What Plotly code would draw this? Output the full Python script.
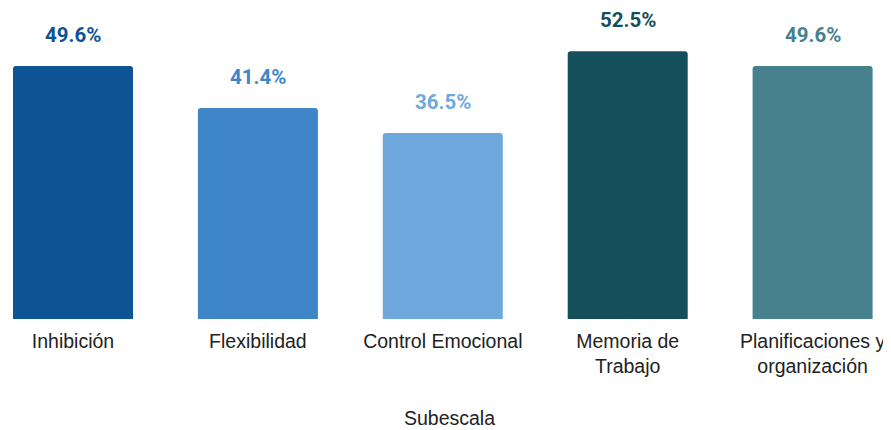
import plotly.graph_objects as go

subescalas = ["Inhibición", "Flexibilidad", "Control Emocional", "Memoria de<br>Trabajo", "Planificaciones y<br>organización"]
porcentajes = [49.6, 41.4, 36.5, 52.5, 49.6]
etiquetas = ["49.6%", "41.4%", "36.5%", "52.5%", "49.6%"]
colores = ["#0e5394", "#3f86c8", "#6fa8dc", "#164f5c", "#47818e"]

fig = go.Figure()
fig.add_trace(go.Bar(x=subescalas, y=porcentajes, marker=dict(color=colores, line=dict(width=0)),
                     hoverinfo="skip"))

for x, y, txt, c in zip(subescalas, porcentajes, etiquetas, colores):
    fig.add_annotation(x=x, y=y, text=f"<b>{txt}</b>", showarrow=False, yanchor="bottom", yshift=17,
                       font=dict(family="Roboto", size=20.5, color=c))

fig.update_layout(
    width=883, height=422,
    margin=dict(l=0, r=0, t=0, b=111, autoexpand=False),
    plot_bgcolor="white", paper_bgcolor="white",
    bargap=0.351, barcornerradius=3,
    showlegend=False,
    font=dict(family="Liberation Sans, Arial", size=19.5, color="#222222"),
)
fig.update_xaxes(range=[-0.3515, 4.424], showgrid=False, showline=False, ticks="",
                 ticklabelstandoff=8, automargin=False,
                 title=dict(text="Subescala", font=dict(size=19.5), standoff=35),
                 tickfont=dict(size=19.5, color="#222222"))
fig.update_yaxes(range=[0, 61.0], visible=False)

fig.write_html("out.html")
